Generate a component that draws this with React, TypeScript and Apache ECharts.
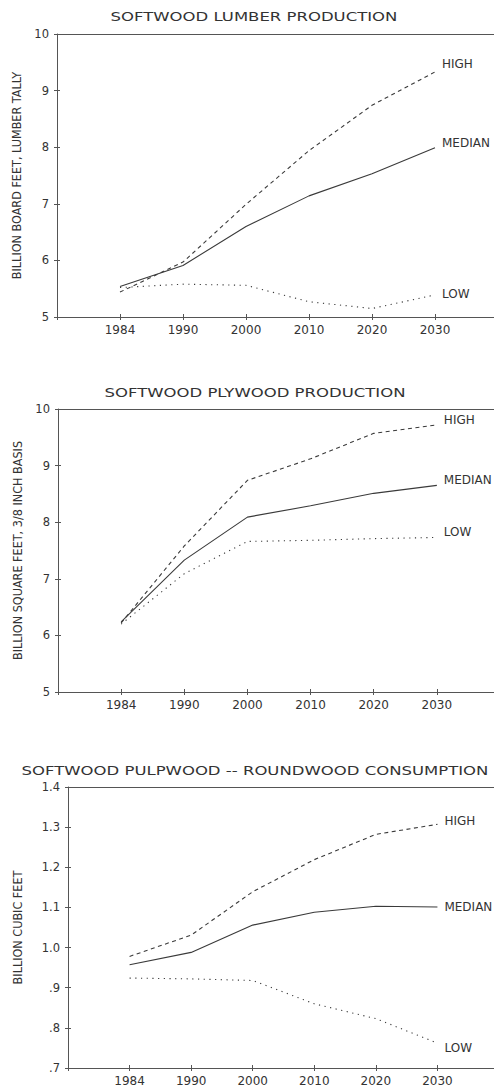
import React, { useEffect, useRef } from 'react';
import * as echarts from 'echarts';

const years = ['1984', '1990', '2000', '2010', '2020', '2030'];

const lumberHigh = [5.44, 5.97, 6.99, 7.94, 8.74, 9.33];
const lumberMedian = [5.54, 5.91, 6.6, 7.14, 7.53, 7.99];
const lumberLow = [5.52, 5.58, 5.56, 5.27, 5.15, 5.39];

const plywoodHigh = [6.22, 7.58, 8.74, 9.12, 9.57, 9.72];
const plywoodMedian = [6.24, 7.33, 8.09, 8.29, 8.51, 8.65];
const plywoodLow = [6.2, 7.09, 7.66, 7.68, 7.71, 7.73];

const pulpHigh = [0.978, 1.031, 1.139, 1.219, 1.282, 1.307];
const pulpMedian = [0.957, 0.988, 1.056, 1.088, 1.103, 1.101];
const pulpLow = [0.924, 0.922, 0.918, 0.86, 0.823, 0.762];

const titles = [
  'SOFTWOOD LUMBER PRODUCTION',
  'SOFTWOOD PLYWOOD PRODUCTION',
  'SOFTWOOD PULPWOOD -- ROUNDWOOD CONSUMPTION',
];
const yNames = [
  'BILLION BOARD FEET, LUMBER TALLY',
  'BILLION SQUARE FEET, 3/8 INCH BASIS',
  'BILLION CUBIC FEET',
];
const seriesLabels = ['HIGH', 'MEDIAN', 'LOW'];

const FONT = '"DejaVu Sans", Verdana, sans-serif';
const NARROW = '"Liberation Sans Narrow", "DejaVu Sans Condensed", "Arial Narrow", sans-serif';
const INK = '#3a3a3a';
const TEXT = '#333';
const AXIS = '#555';

export default function App() {
  const ref = useRef<HTMLDivElement>(null);
  useEffect(() => {
    document.body.style.margin = '0';
    const chart = echarts.init(ref.current!, null, { renderer: 'svg' });

    const panels = [
      {
        grid: { left: 57, top: 34, height: 283, width: 441 },
        titleX: 254, titleY: 16, nameGap: 33,
        min: 5, max: 10, interval: 1,
        fmt: (v: number) => String(Math.round(v)),
        data: [lumberHigh, lumberMedian, lumberLow],
        offs: [-8, -5, -1],
      },
      {
        grid: { left: 58, top: 409, height: 283, width: 442 },
        titleX: 255, titleY: 392, nameGap: 34,
        min: 5, max: 10, interval: 1,
        fmt: (v: number) => String(Math.round(v)),
        data: [plywoodHigh, plywoodMedian, plywoodLow],
        offs: [-5, -5, -5],
      },
      {
        grid: { left: 68, top: 787, height: 281, width: 431 },
        titleX: 255, titleY: 770, nameGap: 44,
        min: 0.7, max: 1.4, interval: 0.1,
        fmt: (v: number) => {
          const s = v.toFixed(1);
          return v < 0.999 ? s.slice(1) : s;
        },
        data: [pulpHigh, pulpMedian, pulpLow],
        offs: [-3, 0, 5],
      },
    ];

    const grids: any[] = [];
    const xAxes: any[] = [];
    const yAxes: any[] = [];
    const series: any[] = [];
    const graphics: any[] = [];
    const lineTypes: any[] = [[4, 3.5], 'solid', [1.2, 4.5]];

    panels.forEach((p, g) => {
      grids.push({
        ...p.grid,
        show: false,
        containLabel: false,
        outerBoundsMode: 'none',
      });
      const xBase = {
        type: 'value', gridIndex: g, min: 0, max: 7, interval: 1,
        position: 'bottom',
        splitLine: { show: false },
        axisLine: { show: true, onZero: false, lineStyle: { color: AXIS, width: 1 } },
      };
      const mainX = xAxes.length;
      xAxes.push({
        ...xBase,
        axisTick: { show: true, length: 3, lineStyle: { color: AXIS } },
        axisLabel: {
          show: true, margin: 7, color: TEXT, fontFamily: FONT, fontSize: 12,
          formatter: (v: number) => (v >= 1 && v <= 6 ? years[v - 1] : ''),
        },
      });
      xAxes.push({
        ...xBase,
        axisLine: { show: false },
        axisTick: { show: true, inside: true, length: 3, lineStyle: { color: AXIS } },
        axisLabel: { show: false },
      });
      xAxes.push({
        ...xBase,
        position: 'top',
        axisTick: { show: false },
        axisLabel: { show: false },
      });
      const yBase = {
        type: 'value', gridIndex: g, min: p.min, max: p.max, interval: p.interval,
        position: 'left',
        splitLine: { show: false },
        axisLine: { show: true, onZero: false, lineStyle: { color: AXIS, width: 1 } },
      };
      const mainY = yAxes.length;
      yAxes.push({
        ...yBase,
        name: yNames[g],
        nameLocation: 'middle',
        nameRotate: 90,
        nameGap: p.nameGap,
        nameTextStyle: { color: TEXT, fontFamily: NARROW, fontSize: 12.5 },
        axisTick: { show: true, length: 3, lineStyle: { color: AXIS } },
        axisLabel: {
          show: true, margin: 8, color: TEXT, fontFamily: FONT, fontSize: 11.5,
          formatter: p.fmt,
        },
      });
      yAxes.push({
        ...yBase,
        axisLine: { show: false },
        axisTick: { show: true, inside: true, length: 3, lineStyle: { color: AXIS } },
        axisLabel: { show: false },
      });

      p.data.forEach((arr, k) => {
        series.push({
          type: 'line',
          name: `${titles[g]} ${seriesLabels[k]}`,
          xAxisIndex: mainX,
          yAxisIndex: mainY,
          data: arr.map((v, i) => [i + 1, v]),
          symbol: 'none',
          silent: true,
          clip: false,
          lineStyle: { color: INK, width: 1.1, type: lineTypes[k] },
          endLabel: {
            show: true,
            formatter: seriesLabels[k],
            color: TEXT,
            fontFamily: FONT,
            fontSize: 12,
            distance: 7,
            offset: [0, p.offs[k]],
          },
        });
      });

      graphics.push({
        type: 'text',
        x: p.titleX,
        y: p.titleY,
        scaleX: 1.32,
        style: {
          text: titles[g],
          align: 'center',
          verticalAlign: 'middle',
          fill: TEXT,
          font: `12.5px ${FONT}`,
        },
      });
    });

    chart.setOption({
      animation: false,
      backgroundColor: '#fff',
      grid: grids,
      xAxis: xAxes,
      yAxis: yAxes,
      series,
      graphic: graphics,
    });
    return () => chart.dispose();
  }, []);
  return <div ref={ref} style={{ width: 494, height: 1088, background: '#fff', overflow: 'hidden' }} />;
}
